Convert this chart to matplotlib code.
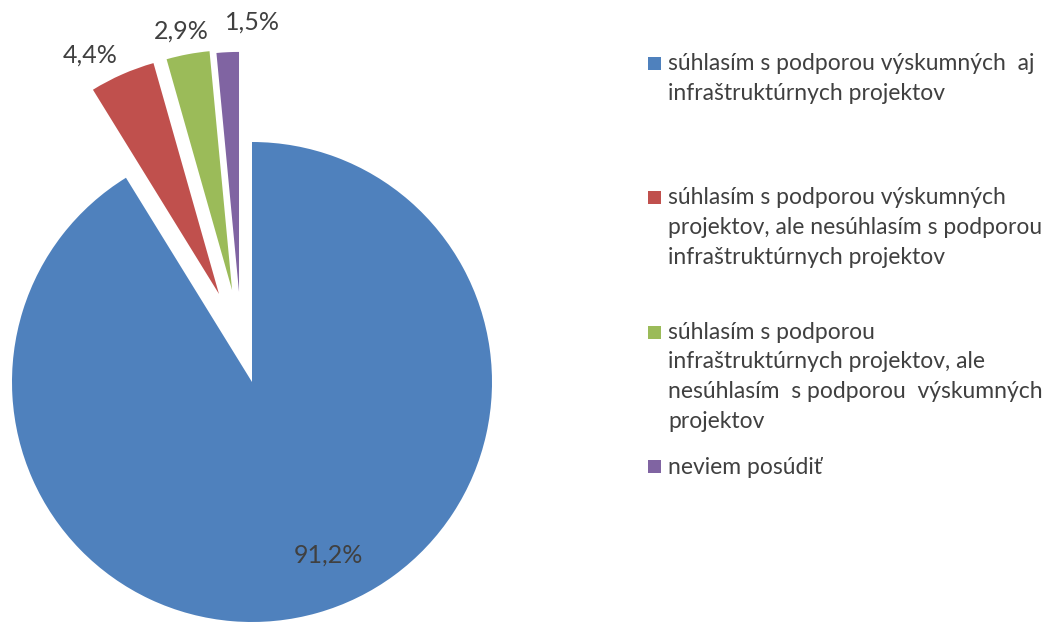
import matplotlib.pyplot as plt
from matplotlib.patches import Rectangle
import numpy as np

# Data
categories = [
    'súhlasím s podporou výskumných  aj\ninfraštruktúrnych projektov',
    'súhlasím s podporou výskumných\nprojektov, ale nesúhlasím s podporou\ninfraštruktúrnych projektov',
    'súhlasím s podporou\ninfraštruktúrnych projektov, ale\nnesúhlasím  s podporou  výskumných\nprojektov',
    'neviem posúdiť',
]
shares = [91.2, 4.4, 2.9, 1.5]
pct_labels = ['91,2%', '4,4%', '2,9%', '1,5%']

colors = ['#4F81BD', '#C0504D', '#9BBB59', '#8064A2']
text_color = '#404040'
font = 'Lato'

W, H = 1051, 622
fig = plt.figure(figsize=(W / 100, H / 100), dpi=100)
ax = fig.add_axes([0, 0, 1, 1])

radius = 240
center = (252, 240)

wedges, texts = ax.pie(shares, colors=colors, startangle=90, counterclock=False,
                       radius=radius, center=center,
                       labels=pct_labels,
                       textprops=dict(color=text_color, fontsize=18, family=font))

# pie() resets limits, so set them afterwards (data units = pixels)
ax.set_xlim(0, W)
ax.set_ylim(0, H)
ax.set_aspect('equal')
ax.axis('off')

# pull out the small slices (Excel-like: direction nudged off the mid angle)
expl_dist = [0, 94, 94, 91]
expl_nudge = [0, -3.2, 1.6, 5.5]
for w, d, dn in zip(wedges, expl_dist, expl_nudge):
    a = np.deg2rad((w.theta1 + w.theta2) / 2 + dn)
    w.set_center((center[0] + d * np.cos(a), center[1] + d * np.sin(a)))

# label placement: angle nudges (deg) and distance from pie centre (in radii)
nudge = [8, 2.5, 0.8, -2.7]
dist = [0.79, 1.52, 1.49, 1.50]
for w, t, dn, d in zip(wedges, texts, nudge, dist):
    a = np.deg2rad((w.theta1 + w.theta2) / 2 + dn)
    t.set_position((center[0] + d * radius * np.cos(a),
                    center[1] + d * radius * np.sin(a)))
    t.set_ha('center')
    t.set_va('center')

# Legend, entries equally spaced
leg_x = 648
leg_y0 = H - 63
leg_step = 134.5
box = 13
for i, (lab, c) in enumerate(zip(categories, colors)):
    y = leg_y0 - i * leg_step
    ax.add_patch(Rectangle((leg_x, y - box / 2), box, box, facecolor=c, edgecolor='none'))
    ax.text(leg_x + 20, y + 10, lab, ha='left', va='top', fontsize=16.5,
            family=font, color=text_color, linespacing=1.5)

plt.savefig('out.png', dpi=100)
